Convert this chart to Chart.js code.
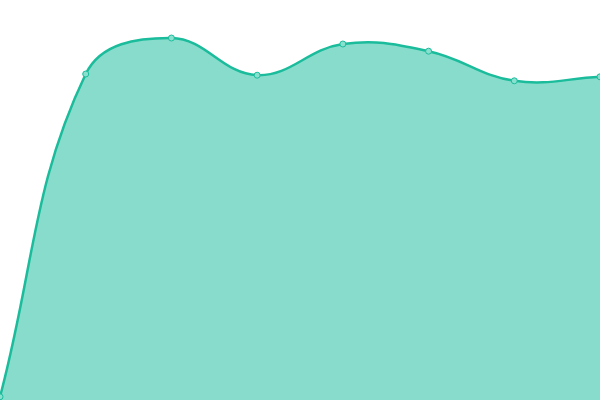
<!DOCTYPE html>
<html>
<head>
<meta charset="utf-8">
<script src="https://cdn.jsdelivr.net/npm/chart.js@4"></script>
<style>
    html, body { margin: 0; padding: 0; background: #fff; }
    #wrap { width: 600px; height: 400px; }
</style>
</head>
<body>
<div id="wrap"><canvas id="areaChart"></canvas></div>
<script>
const labels = ['1', '2', '3', '4', '5', '6', '7', '8'];
const values = [0.8, 81.5, 90.5, 81.2, 89, 87.2, 79.8, 80.8];

const ctx = document.getElementById('areaChart');

const chart = new Chart(ctx, {
    type: 'line',
    data: {
        labels: labels,
        datasets: [
            {
                data: values,
                fill: true,
                backgroundColor: 'rgba(26, 188, 156, 0.52)',
                borderColor: '#1abc9c',
                borderWidth: 2.5,
                pointRadius: 3,
                pointBackgroundColor: '#8ae0cf',
                pointBorderColor: '#1abc9c',
                pointBorderWidth: 1,
                tension: 0.4
            }
        ]
    },
    options: {
        responsive: true,
        maintainAspectRatio: false,
        animation: false,
        layout: { padding: 0, autoPadding: false },
        plugins: {
            legend: { display: false },
            tooltip: { enabled: false }
        },
        scales: {
            x: { display: false },
            y: { display: false, min: 0, max: 100 }
        }
    }
});
</script>
</body>
</html>
